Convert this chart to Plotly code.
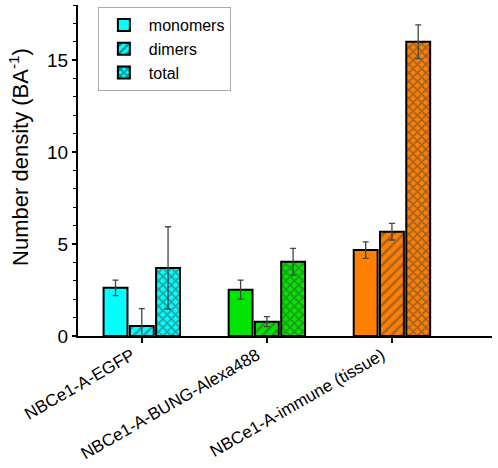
import plotly.graph_objects as go

categories = ["NBCe1-A-EGFP", "NBCe1-A-BUNG-Alexa488", "NBCe1-A-immune (tissue)"]
group_colors = ["#00FFFF", "#00E600", "#FF8000"]

monomers = [2.62, 2.52, 4.67]
monomers_err = [0.42, 0.52, 0.45]
dimers = [0.54, 0.78, 5.67]
dimers_err = [0.95, 0.27, 0.45]
total = [3.70, 4.04, 16.0]
total_err = [2.24, 0.73, 0.92]

series = [
    ("monomers", monomers, monomers_err, "", 8, 0.3),
    ("dimers", dimers, dimers_err, "/", 7, 0.35),
    ("total", total, total_err, "x", 6, 0.5),
]

fig = go.Figure()
for name, vals, errs, shape, psize, psol in series:
    fig.add_trace(go.Bar(
        name=name, x=categories, y=vals,
        marker=dict(
            color=group_colors,
            line=dict(color="black", width=2),
            pattern=dict(shape=shape, fgcolor="black", size=psize, solidity=psol, fillmode="overlay"),
        ),
        error_y=dict(type="data", array=errs, visible=True, color="#444444", thickness=1.3, width=3),
    ))

fig.update_layout(
    width=498, height=468,
    margin=dict(l=78, r=6, t=5, b=132),
    paper_bgcolor="white", plot_bgcolor="white",
    barmode="group", bargap=0.37, bargroupgap=0.09,
    font=dict(family="Liberation Sans, Arial, sans-serif", color="black"),
    showlegend=True,
    legend=dict(x=0.048, y=0.994, xanchor="left", yanchor="top",
                bordercolor="#aaaaaa", borderwidth=1, bgcolor="white",
                font=dict(size=16), tracegroupgap=0, itemwidth=40),
    xaxis=dict(range=[-0.51, 2.8], showline=True, linecolor="black", linewidth=2,
               ticks="outside", ticklen=5, tickwidth=1.5, tickcolor="black",
               tickangle=-30, tickfont=dict(size=17), showgrid=False, zeroline=False,
               automargin=False, ticklabelstandoff=-4, ticklabelshift=-10),
    yaxis=dict(range=[0, 18], showline=True, linecolor="black", linewidth=2,
               ticks="outside", ticklen=4, tickwidth=1.5, tickcolor="black",
               tickvals=[0, 5, 10, 15], tickfont=dict(size=19),
               minor=dict(dtick=1, ticks="outside", ticklen=3, tickcolor="black", tickwidth=1.2),
               showgrid=False, zeroline=False, automargin=False),
    annotations=[dict(text="Number density (BA<sup>-1</sup>)", textangle=-90,
                      xref="paper", yref="paper", x=-0.1425, y=0.541,
                      xanchor="center", yanchor="middle", showarrow=False,
                      font=dict(size=22))],
)

fig.write_html("out.html", config={"displayModeBar": False},
               post_script="document.body.style.margin='0';document.body.style.overflow='hidden';")
